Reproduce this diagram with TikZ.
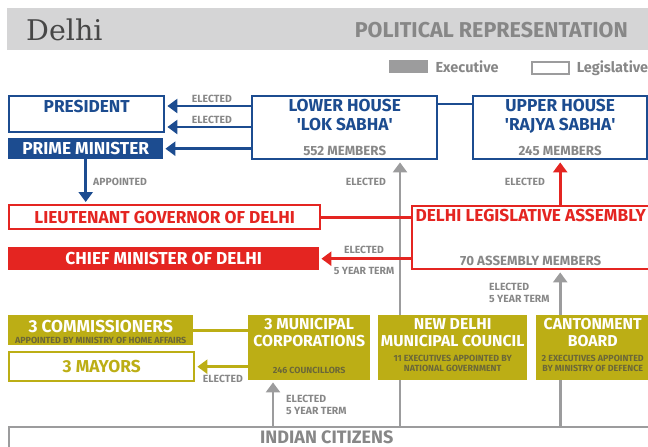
\documentclass[tikz,border=0pt]{standalone}
\usepackage{fontspec}
\setmainfont{Fira Sans}
\newfontfamily\slabfont{DejaVu Serif}
\usetikzlibrary{calc,arrows.meta,positioning,backgrounds}

\definecolor{cblue}{HTML}{1C4C90}
\definecolor{cred}{HTML}{E42521}
\definecolor{colive}{HTML}{BCAE15}
\definecolor{cgray}{HTML}{9C9C9D}
\definecolor{ctext}{HTML}{878787}
\definecolor{cband}{HTML}{D5D5D6}
\definecolor{csmall}{HTML}{6B6738}

\tikzset{
  frame/.style={draw, line width=2.4pt, anchor=north west, inner sep=0pt},
  solid box/.style={anchor=north west, inner sep=0pt, text=white},
  head/.style={font=\bfseries\fontsize{17.3}{19.5}\selectfont, align=center, inner sep=0pt},
  local head/.style={font=\bfseries\fontsize{15.8}{17.5}\selectfont, align=center, inner sep=0pt, text=white, anchor=north},
  members/.style={font=\bfseries\fontsize{13.3}{14}\selectfont, text=ctext, inner sep=0pt},
  tiny/.style={font=\bfseries\fontsize{8.9}{10.2}\selectfont, text=csmall, align=center, inner sep=0pt},
  lbl/.style={font=\bfseries\fontsize{10.4}{11.8}\selectfont, text=ctext, align=left, inner sep=0pt},
  link/.style={line width=2.8pt},
  arr/.style={line width=2.8pt, -{Triangle[width=14pt,length=10pt]}, shorten >=2pt},
}

\begin{document}
\begin{tikzpicture}[x=1pt,y=-1pt]
  \useasboundingbox (0,0) rectangle (648,447);

  % kop
  \fill[cband] (7,8) rectangle (650,50);
  \node[anchor=west, inner sep=0pt, text=black!72, font=\slabfont\fontsize{28.5}{28.5}\selectfont] (title) at (26,30) {Delhi};
  \node[anchor=east, inner sep=0pt, text=ctext, font=\bfseries\fontsize{21.5}{21.5}\selectfont] (subtitle) at (628,30) {POLITICAL REPRESENTATION};

  % legenda
  \node[fill=cgray, minimum width=39, minimum height=13, anchor=north west, inner sep=0pt] (legexec) at (389,60) {};
  \node[right=7pt of legexec, inner sep=0pt, text=ctext, font=\bfseries\fontsize{14.5}{14.5}\selectfont] (legexectxt) {Executive};
  \node[draw=cgray, line width=1.6pt, minimum width=37, minimum height=12, anchor=north west, inner sep=0pt] (legleg) at (531,61) {};
  \node[right=7pt of legleg, inner sep=0pt, text=ctext, font=\bfseries\fontsize{14.5}{14.5}\selectfont] (leglegtxt) {Legislative};

  % nationaal
  \node[frame, draw=cblue, minimum width=155, minimum height=36] (president) at (8,95) {};
  \node[head, text=cblue] at ($(president.north)+(0,12)$) {PRESIDENT};
  \node[solid box, fill=cblue, minimum width=155, minimum height=21, head, text=white] (pm) at (8,138) {PRIME MINISTER};
  \node[frame, draw=cblue, minimum width=185, minimum height=63] (lower) at (251,95) {};
  \node[head, text=cblue, anchor=north] at ($(lower.north)+(0,4)$) {LOWER HOUSE\\\textquotesingle LOK SABHA\textquotesingle};
  \node[members] at ($(lower.south)+(0,-10)$) {552 MEMBERS};
  \node[frame, draw=cblue, minimum width=174, minimum height=63] (upper) at (472,95) {};
  \node[head, text=cblue, anchor=north] at ($(upper.north)+(0,4)$) {UPPER HOUSE\\\textquotesingle RAJYA SABHA\textquotesingle};
  \node[members] at ($(upper.south)+(0,-10)$) {245 MEMBERS};

  % Delhi
  \node[frame, draw=cred, minimum width=311, minimum height=24, head, text=cred] (lg) at (8,204) {LIEUTENANT GOVERNOR OF DELHI};
  \node[solid box, fill=cred, minimum width=311, minimum height=23, head, text=white] (cm) at (8,247) {CHIEF MINISTER OF DELHI};
  \node[frame, draw=cred, minimum width=237, minimum height=63] (assembly) at (411,205) {};
  \node[head, text=cred] at ($(assembly.north)+(0,11)$) {DELHI LEGISLATIVE ASSEMBLY};
  \node[members] at ($(assembly.south)+(0,-10)$) {70 ASSEMBLY MEMBERS};

  % lokaal
  \node[solid box, fill=colive, minimum width=185, minimum height=30] (comm) at (8,315) {};
  \node[head, text=white] at ($(comm.north)+(0,12)$) {3 COMMISSIONERS};
  \node[tiny] at ($(comm.north)+(0,25)$) {APPOINTED BY MINISTRY OF HOME AFFAIRS};
  \node[frame, draw=colive, minimum width=185, minimum height=29, head, text=colive] (mayors) at (8,351) {3 MAYORS};
  \node[solid box, fill=colive, minimum width=122, minimum height=65] (muni) at (248,315) {};
  \node[local head] at ($(muni.north)+(0,3)$) {3 MUNICIPAL\\CORPORATIONS};
  \node[tiny] at ($(muni.south)+(0,-10)$) {246 COUNCILLORS};
  \node[solid box, fill=colive, minimum width=149, minimum height=65] (ndmc) at (378,315) {};
  \node[local head] at ($(ndmc.north)+(0,3)$) {NEW DELHI\\MUNICIPAL COUNCIL};
  \node[tiny, anchor=north] at ($(ndmc.north)+(0,40)$) {11 EXECUTIVES APPOINTED BY\\NATIONAL GOVERNMENT};
  \node[solid box, fill=colive, minimum width=113, minimum height=65] (cant) at (536,315) {};
  \node[local head] at ($(cant.north)+(0,3)$) {CANTONMENT\\BOARD};
  \node[tiny, anchor=north] at ($(cant.north)+(0,40)$) {2 EXECUTIVES APPOINTED\\BY MINISTRY OF DEFENCE};

  \node[frame, draw=cgray, minimum width=645, minimum height=30] (citizens) at (8,426) {};
  \node[anchor=west, inner sep=0pt, text=ctext, font=\bfseries\fontsize{18}{18}\selectfont] (citizenstxt) at (260,437) {INDIAN CITIZENS};

  \coordinate (votelok) at (400,0);
  \coordinate (votemuni) at (273,0);

  % verbindingen
  \draw[arr, cblue] ($(lower.north west)+(0,11)$) -- ($(president.north east)+(0,11)$);
  \draw[arr, cblue] ($(lower.north west)+(0,32)$) -- ($(president.north east)+(0,32)$);
  \draw[arr, cblue] (pm.east -| lower.west) -- (pm.east);
  \draw[link, cblue] ($(lower.north east)+(0,9)$) -- ($(upper.north west)+(0,9)$);
  \draw[arr, cblue] (pm.south) -- (pm.south |- lg.north);
  \draw[link, cred] (lg.east) -- (lg.east -| assembly.west);
  \draw[arr, cred] (cm.east -| assembly.west) -- (cm.east);
  \draw[arr, cred] (upper.south |- assembly.north) -- (upper.south);
  \draw[link, colive] (comm.east) -- (comm.east -| muni.west);
  \draw[arr, colive] (mayors.east -| muni.west) -- (mayors.east);
  \begin{scope}[on background layer]
    \draw[arr, cgray] (citizens.north -| votelok) -- (lower.south -| votelok);
    \draw[arr, cgray] (citizens.north -| upper.south) -- (assembly.south -| upper.south);
  \end{scope}
  \draw[arr, cgray] (citizens.north -| votemuni) -- (muni.south -| votemuni);

  % labels
  \node[lbl, anchor=east] at (232,99) {ELECTED};
  \node[lbl, anchor=east] at (232,120) {ELECTED};
  \node[lbl, anchor=west] at (93,182) {APPOINTED};
  \node[lbl, anchor=east] at (386,182) {ELECTED};
  \node[lbl, anchor=east] at (545,182) {ELECTED};
  \node[lbl] at (364,250) {ELECTED};
  \node[lbl] at (364,271) {5 YEAR TERM};
  \node[lbl, anchor=west] at (489,293) {ELECTED\\5 YEAR TERM};
  \node[lbl, anchor=east] at (243,379) {ELECTED};
  \node[lbl, anchor=west] at (286,405) {ELECTED\\5 YEAR TERM};
\end{tikzpicture}
\end{document}
